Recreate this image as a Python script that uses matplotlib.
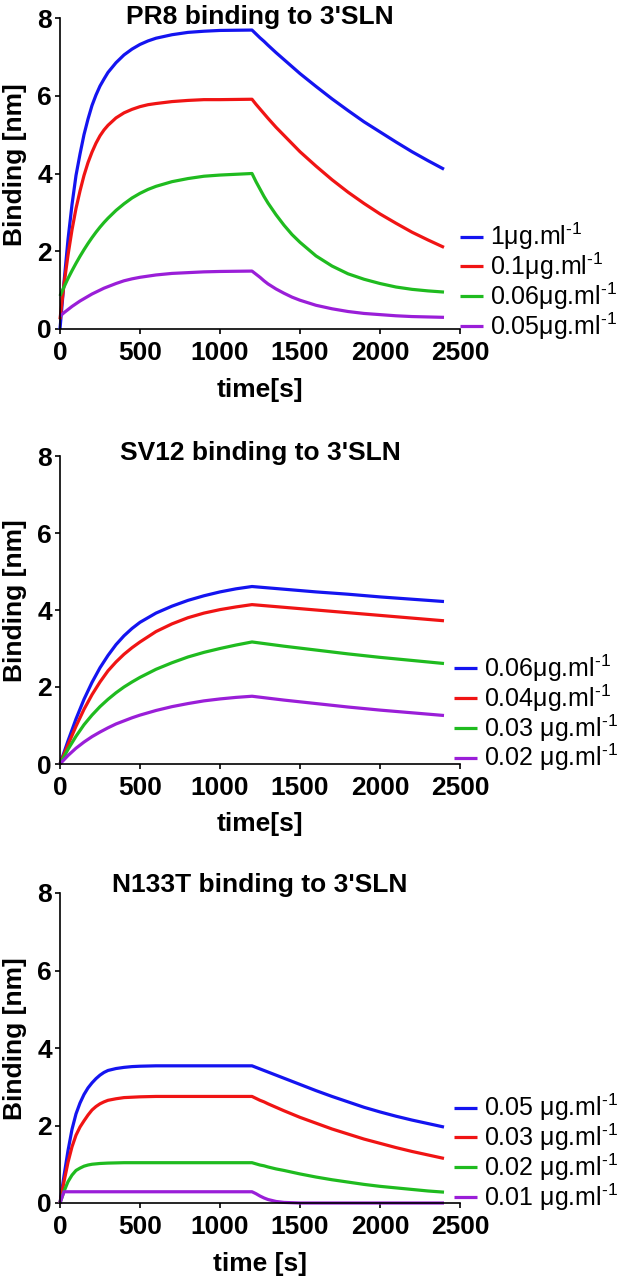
import matplotlib
matplotlib.use("Agg")
import matplotlib.pyplot as plt

plt.rcParams['font.family'] = ['Liberation Sans', 'DejaVu Sans']
plt.rcParams['mathtext.fontset'] = 'custom'
plt.rcParams['mathtext.rm'] = 'Liberation Sans'

# ---------------- data ----------------
x_ticks = [0, 500, 1000, 1500, 2000, 2500]
y_ticks = [0, 2, 4, 6, 8]

titles = ["PR8 binding to 3'SLN", "SV12 binding to 3'SLN", "N133T binding to 3'SLN"]
x_labels = ["time[s]", "time[s]", "time [s]"]
y_label = "Binding [nm]"

SUP = r"$^{\text{-1}}$"

# Panel 1: PR8
t_pr8 = [0, 25, 50, 75, 100, 125, 150, 175, 200, 225, 250, 275, 300, 350, 400, 450, 500, 550,
         600, 700, 800, 900, 1000, 1200,
         1225, 1250, 1275, 1300, 1350, 1400, 1450, 1500, 1600, 1700, 1800, 1900, 2000, 2100,
         2200, 2300, 2400]
pr8_1 = [0, 1.2, 2.3, 3.2, 3.95, 4.5, 5.0, 5.4, 5.75, 6.02, 6.25, 6.43, 6.6, 6.85, 7.05, 7.2, 7.32, 7.41,
         7.48, 7.57, 7.63, 7.66, 7.68, 7.69,
         7.59, 7.49, 7.40, 7.30, 7.11, 6.93, 6.75, 6.57, 6.24, 5.92, 5.62, 5.33, 5.07, 4.81,
         4.56, 4.33, 4.11]
pr8_01 = [0.25, 1.15, 1.9, 2.55, 3.1, 3.55, 3.95, 4.28, 4.55, 4.78, 4.97, 5.12, 5.24, 5.43, 5.56, 5.65,
          5.72, 5.77, 5.8, 5.85, 5.88, 5.9, 5.9, 5.91,
          5.78, 5.66, 5.54, 5.42, 5.19, 4.98, 4.77, 4.56, 4.19, 3.84, 3.52, 3.23, 2.96, 2.72,
          2.49, 2.29, 2.10]
pr8_006 = [0.85, 1.08, 1.3, 1.5, 1.69, 1.87, 2.04, 2.2, 2.35, 2.49, 2.62, 2.74, 2.85, 3.05, 3.22, 3.37,
           3.49, 3.59, 3.67, 3.79, 3.87, 3.93, 3.96, 4.0,
           3.79, 3.60, 3.41, 3.24, 2.94, 2.67, 2.43, 2.23, 1.88, 1.62, 1.42, 1.28, 1.17, 1.08,
           1.02, 0.98, 0.95]
pr8_005 = [0.33, 0.42, 0.5, 0.58, 0.65, 0.72, 0.78, 0.84, 0.9, 0.95, 1.0, 1.05, 1.09, 1.17, 1.24, 1.29,
           1.33, 1.36, 1.39, 1.43, 1.45, 1.47, 1.48, 1.49,
           1.41, 1.33, 1.24, 1.16, 1.03, 0.92, 0.82, 0.74, 0.61, 0.52, 0.45, 0.40, 0.37, 0.34,
           0.32, 0.31, 0.30]
labels_pr8 = ["1μg.ml" + SUP, "0.1μg.ml" + SUP, "0.06μg.ml" + SUP, "0.05μg.ml" + SUP]

# Panel 2: SV12
t_sv12 = [0, 50, 100, 150, 200, 250, 300, 350, 400, 450, 500, 600, 700, 800, 900, 1000, 1100, 1200,
          1400, 1600, 1800, 2000, 2200, 2400]
sv12_006 = [0, 0.6, 1.17, 1.68, 2.12, 2.5, 2.82, 3.1, 3.33, 3.52, 3.68, 3.92, 4.1, 4.25, 4.37, 4.47,
            4.55, 4.61,
            4.54, 4.47, 4.41, 4.34, 4.28, 4.22]
sv12_004 = [0, 0.5, 0.98, 1.42, 1.8, 2.13, 2.42, 2.65, 2.85, 3.02, 3.17, 3.44, 3.64, 3.8, 3.92, 4.01,
            4.08, 4.14,
            4.07, 4.0, 3.93, 3.86, 3.79, 3.72]
sv12_003 = [0, 0.38, 0.72, 1.02, 1.27, 1.49, 1.68, 1.85, 2.0, 2.13, 2.25, 2.46, 2.63, 2.78, 2.9, 3.0,
            3.09, 3.17,
            3.06, 2.96, 2.86, 2.77, 2.69, 2.61]
sv12_002 = [0, 0.22, 0.41, 0.57, 0.71, 0.83, 0.94, 1.04, 1.12, 1.2, 1.27, 1.39, 1.49, 1.57, 1.64, 1.69,
            1.73, 1.76,
            1.66, 1.57, 1.48, 1.40, 1.33, 1.26]
labels_sv12 = ["0.06μg.ml" + SUP, "0.04μg.ml" + SUP, "0.03 μg.ml" + SUP, "0.02 μg.ml" + SUP]

# Panel 3: N133T
t_n133t = [0, 25, 50, 75, 100, 125, 150, 175, 200, 225, 250, 275, 300, 350, 400, 450, 500, 600, 1200,
           1225, 1250, 1275, 1300, 1350, 1400, 1500, 1600, 1700, 1800, 1900, 2000, 2100, 2200, 2300, 2400]
n133t_005 = [0, 0.7, 1.35, 1.9, 2.3, 2.58, 2.8, 2.97, 3.1, 3.21, 3.3, 3.37, 3.42, 3.47, 3.5, 3.52, 3.53,
             3.54, 3.54,
             3.50, 3.46, 3.42, 3.38, 3.30, 3.22, 3.06, 2.90, 2.75, 2.61, 2.47, 2.35, 2.24, 2.14, 2.05, 1.96]
n133t_003 = [0, 0.55, 1.05, 1.45, 1.75, 1.96, 2.12, 2.27, 2.4, 2.49, 2.56, 2.61, 2.65, 2.69, 2.72, 2.73,
             2.74, 2.75, 2.75,
             2.70, 2.65, 2.61, 2.56, 2.47, 2.38, 2.21, 2.06, 1.91, 1.78, 1.65, 1.54, 1.43, 1.33, 1.24, 1.15]
n133t_002 = [0, 0.3, 0.55, 0.72, 0.84, 0.9, 0.95, 0.98, 1.0, 1.01, 1.02, 1.025, 1.03, 1.035, 1.04, 1.04,
             1.04, 1.04, 1.04,
             1.01, 0.98, 0.96, 0.93, 0.88, 0.84, 0.75, 0.67, 0.60, 0.54, 0.48, 0.43, 0.39, 0.35, 0.31, 0.28]
n133t_001 = [0, 0.29, 0.29, 0.29, 0.29, 0.29, 0.29, 0.29, 0.29, 0.29, 0.29, 0.29, 0.29, 0.29, 0.29, 0.29,
             0.29, 0.29, 0.29,
             0.24, 0.18, 0.13, 0.09, 0.04, 0.015, 0.0, 0.0, 0.0, 0.0, 0.0, 0.0, 0.0, 0.0, 0.0, 0.0]
labels_n133t = ["0.05 μg.ml" + SUP, "0.03 μg.ml" + SUP, "0.02 μg.ml" + SUP, "0.01 μg.ml" + SUP]

colors = ['#1414f0', '#f01414', '#1fbb1f', '#9a1ed8']

panels = [
    (t_pr8, [pr8_1, pr8_01, pr8_006, pr8_005], labels_pr8),
    (t_sv12, [sv12_006, sv12_004, sv12_003, sv12_002], labels_sv12),
    (t_n133t, [n133t_005, n133t_003, n133t_002, n133t_001], labels_n133t),
]

# ---------------- layout ----------------
W, H = 625, 1280
fig = plt.figure(figsize=(W / 100, H / 100), dpi=100)

ax_rows = [(18, 329), (456, 764), (893, 1203)]   # pixel rows of value 8 and value 0
ax_left_px, ax_right_px = 60, 460
title_y = [1.003, 1.01, 1.026]
legend_x = [1.0, 0.985, 0.985]
legend_y = [0.153, 0.166, 0.163]

for i, (t, series, labels) in enumerate(panels):
    top_px, bot_px = ax_rows[i]
    ax = fig.add_axes([ax_left_px / W, 1 - bot_px / H,
                       (ax_right_px - ax_left_px) / W, (bot_px - top_px) / H])
    handles = []
    for vals, c in zip(series, colors):
        ln, = ax.plot(t, vals, color=c, lw=2.3, clip_on=False, solid_capstyle='butt',
                      solid_joinstyle='round')
        handles.append(ln)
    ax.set_xlim(0, 2500)
    ax.set_ylim(0, 8)
    ax.set_xticks(x_ticks)
    ax.set_yticks(y_ticks)
    for s in ['top', 'right']:
        ax.spines[s].set_visible(False)
    for s in ['left', 'bottom']:
        ax.spines[s].set_linewidth(1.2)
    ax.tick_params(direction='out', length=3.8, width=1.2, labelsize=19, pad=2)
    ax.tick_params(axis='x', pad=5)
    for lbl in ax.get_xticklabels() + ax.get_yticklabels():
        lbl.set_fontweight('bold')
    ax.text(0.5, title_y[i], titles[i], transform=ax.transAxes, ha='center', va='center',
            fontsize=19, fontweight='bold')
    ax.text(0.5, -0.196, x_labels[i], transform=ax.transAxes, ha='center', va='center',
            fontsize=19, fontweight='bold')
    ax.text(-0.1125, 0.53, y_label, transform=ax.transAxes, ha='center', va='center',
            rotation=90, fontsize=19, fontweight='bold')
    ax.legend(handles, labels, loc='center left', bbox_to_anchor=(legend_x[i], legend_y[i]),
              frameon=False, fontsize=18, handlelength=0.9, handletextpad=0.3,
              labelspacing=-0.06, borderpad=0, borderaxespad=0)

fig.savefig('out.png', dpi=100)
